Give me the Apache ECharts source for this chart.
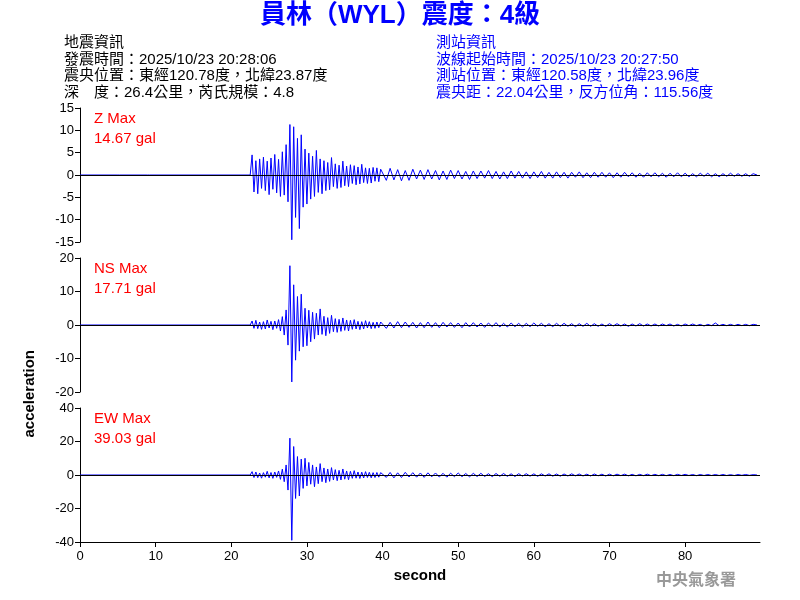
<!DOCTYPE html>
<html>
<head>
<meta charset="UTF-8">
<script src="https://cdn.jsdelivr.net/npm/echarts@6/dist/echarts.min.js"></script>
<style>body{margin:0}#c{width:800px;height:600px;background:#fff}</style>
</head>
<body>
<div id="c"></div>
<script>
// sampled traces (gal); strong part every 0.25 s from 22.5 s, coda every 0.5 s from 40 s
var dtStrong = 0.25, tStrong = 22.5, dtCoda = 0.5, tCoda = 40;
var zPre = [[0,0],[4.9,0],[5,0.3],[5.1,-0.3],[5.2,0],[8.9,0],[9,0.3],[9.1,-0.3],[9.2,0],[22.5,0]];
var nsPre = [[0,0],[22.5,0]];
var ewPre = [[0,0],[22.5,0]];
var zStrong = [0,4.5,-3.8,3.2,-4.2,3.6,-3.0,4.0,-3.5,3.1,-4.4,3.8,-3.2,4.6,-4.0,3.5,-4.8,5.2,-4.5,6.8,-6.0,11.3,-14.5,10.8,-9.5,8.2,-12.0,9.0,-7.2,5.8,-6.5,4.9,-5.4,4.2,-4.8,5.5,-3.9,3.6,-4.2,3.2,-3.5,2.8,-3.3,3.9,-2.6,2.5,-3.0,2.2,-2.8,3.1,-2.4,2.0,-2.6,2.3,-1.9,2.1,-2.2,1.8,-2.0,2.4,-1.7,1.6,-1.9,1.5,-1.8,1.7,-1.4,1.6,-1.5,1.3];
var zCoda = [1.4,-1.2,1.5,-1.1,1.2,-1.3,1.0,-1.2,1.3,-0.9,1.1,-1.0,1.2,-0.9,1.0,-1.1,0.9,-1.0,1.1,-0.8,1.0,-0.9,0.8,-1.0,0.9,-0.8,0.9,-0.7,1.0,-0.8,0.8,-0.9,0.7,-0.8,0.9,-0.7,0.8,-0.7,0.7,-0.8,0.7,-0.6,0.8,-0.7,0.6,-0.7,0.7,-0.6,0.6,-0.7,0.6,-0.5,0.7,-0.6,0.5,-0.6,0.6,-0.5,0.6,-0.5,0.5,-0.6,0.5,-0.5,0.6,-0.4,0.5,-0.5,0.4,-0.5,0.5,-0.4,0.5,-0.4,0.4,-0.5,0.4,-0.4,0.5,-0.4,0.4,-0.4,0.3,-0.4,0.4,-0.3,0.4,-0.4,0.3,-0.4,0.3,-0.3,0.4,-0.3,0.3,-0.3,0.3,-0.3,0.3,0];
var nsStrong = [0,1.2,-1.0,1.4,-1.1,0.9,-1.3,1.0,-1.2,1.5,-0.9,1.1,-1.4,1.2,-1.0,1.6,-1.8,2.5,-3.0,4.5,-6.0,17.7,-17.0,12.0,-10.5,8.5,-7.8,9.2,-6.5,5.0,-6.2,4.4,-5.0,3.8,-4.2,3.5,-3.0,4.8,-2.8,2.6,-3.2,2.2,-2.5,2.9,-2.0,1.9,-2.2,1.7,-1.9,2.1,-1.6,1.5,-1.8,1.4,-1.3,1.6,-1.2,1.1,-1.4,1.0,-1.2,1.3,-0.9,1.0,-1.1,0.8,-1.0,0.9,-0.8,0.9];
var nsCoda = [0.9,-1.0,0.8,-0.9,1.0,-0.8,0.9,-0.7,0.8,-0.9,0.7,-0.8,0.9,-0.7,0.7,-0.8,0.8,-0.6,0.7,-0.7,0.6,-0.8,0.7,-0.6,0.7,-0.6,0.6,-0.7,0.6,-0.5,0.7,-0.6,0.5,-0.6,0.6,-0.5,0.5,-0.6,0.5,-0.5,0.6,-0.4,0.5,-0.5,0.4,-0.5,0.5,-0.4,0.5,-0.4,0.4,-0.5,0.4,-0.4,0.5,-0.4,0.4,-0.4,0.3,-0.4,0.4,-0.3,0.4,-0.3,0.3,-0.4,0.3,-0.3,0.4,-0.3,0.3,-0.3,0.3,-0.3,0.3,-0.2,0.3,-0.3,0.2,-0.3,0.3,-0.2,0.3,-0.2,0.2,-0.3,0.2,-0.2,0.6,-0.2,0.2,-0.2,0.2,-0.2,0.2,-0.2,0.2,-0.2,0.2,0];
var ewStrong = [0,2.0,-1.5,1.8,-1.6,1.2,-1.9,1.4,-1.3,2.2,-1.7,1.5,-2.0,1.8,-1.4,2.4,-2.6,3.5,-4.0,6.0,-9.0,22.0,-39.0,17.0,-14.0,11.0,-12.5,9.5,-8.0,10.0,-6.5,7.5,-5.5,6.0,-7.0,4.8,-5.2,6.8,-4.0,4.2,-4.6,3.6,-3.8,4.4,-3.0,3.2,-3.4,2.8,-3.0,3.6,-2.5,2.4,-2.8,2.2,-2.0,2.6,-1.9,1.8,-2.1,1.7,-1.8,2.0,-1.5,1.6,-1.7,1.4,-1.5,1.5,-1.3,1.4];
var ewCoda = [1.6,-1.4,1.5,-1.7,1.3,-1.5,1.6,-1.2,1.4,-1.3,1.2,-1.4,1.3,-1.1,1.2,-1.2,1.0,-1.3,1.1,-1.0,1.2,-1.0,0.9,-1.1,1.0,-0.9,1.0,-0.9,0.8,-1.0,0.9,-0.8,0.9,-0.8,0.7,-0.9,0.8,-0.7,0.8,-0.7,0.7,-0.8,0.7,-0.6,0.7,-0.7,0.6,-0.7,0.6,-0.6,0.7,-0.5,0.6,-0.6,0.5,-0.6,0.6,-0.5,0.5,-0.6,0.5,-0.5,0.5,-0.4,0.5,-0.5,0.4,-0.5,0.4,-0.4,0.5,-0.4,0.4,-0.4,0.4,-0.4,0.3,-0.4,0.4,-0.3,0.4,-0.3,0.3,-0.4,0.3,-0.3,0.3,-0.3,0.3,-0.3,0.3,-0.3,0.2,-0.3,0.3,-0.2,0.3,-0.2,0.2,0];
var xTicks = {min: 0, max: 89.9, interval: 10};
var panels = [
  {name: 'Z Max', peak: '14.67 gal', pre: zPre, strong: zStrong, coda: zCoda, min: -15, max: 15, interval: 5},
  {name: 'NS Max', peak: '17.71 gal', pre: nsPre, strong: nsStrong, coda: nsCoda, min: -20, max: 20, interval: 10},
  {name: 'EW Max', peak: '39.03 gal', pre: ewPre, strong: ewStrong, coda: ewCoda, min: -40, max: 40, interval: 20}
];

function trace(p) {
  var d = p.pre.slice();
  p.strong.forEach(function (v, i) { d.push([tStrong + i * dtStrong, v]); });
  p.coda.forEach(function (v, i) { d.push([tCoda + i * dtCoda, v]); });
  return d;
}

var font = 'Liberation Sans, Arial, sans-serif';
var tops = [108, 258, 408];
var grid = [], xAxis = [], yAxis = [], series = [], graphic = [];
panels.forEach(function (p, k) {
  grid.push({left: 80, width: 680, top: tops[k], height: 134});
  xAxis.push({
    type: 'value', gridIndex: k, min: xTicks.min, max: xTicks.max, interval: xTicks.interval,
    show: k === 2, splitLine: {show: false},
    axisLine: {onZero: false, lineStyle: {color: '#000'}},
    axisTick: {lineStyle: {color: '#000'}},
    axisLabel: {color: '#000', fontSize: 13, fontFamily: font, showMaxLabel: false},
    name: k === 2 ? 'second' : '', nameLocation: 'middle', nameGap: 26,
    nameTextStyle: {color: '#000', fontSize: 15, fontWeight: 'bold', fontFamily: font}
  });
  yAxis.push({
    type: 'value', gridIndex: k, min: p.min, max: p.max, interval: p.interval,
    splitLine: {show: false},
    axisLine: {show: true, lineStyle: {color: '#000'}},
    axisTick: {show: true, lineStyle: {color: '#000'}},
    axisLabel: {color: '#000', fontSize: 13, fontFamily: font, margin: 6}
  });
  series.push({
    type: 'line', xAxisIndex: k, yAxisIndex: k, data: trace(p), showSymbol: false,
    lineStyle: {color: '#0000ff', width: 1}, animation: false,
    markLine: {silent: true, symbol: 'none', label: {show: false},
      lineStyle: {color: '#000', width: 1, type: 'solid'}, data: [{yAxis: 0}]},
    z: 3
  });
  graphic.push({type: 'text', left: 94, top: tops[k] + 1,
    style: {text: p.name + '\n' + p.peak, fill: '#ff0000', font: '15px ' + font, lineHeight: 20}});
});

var info = '15px Liberation Sans, "Noto Sans CJK TC", sans-serif';
graphic.push(
  {type: 'text', left: 'center', top: 3, style: {text: '員林（WYL）震度：4級', fill: '#0000ff', font: 'bold 26px Liberation Sans, "Noto Sans CJK TC", sans-serif'}},
  {type: 'text', left: 64, top: 35, style: {text: '地震資訊\n發震時間：2025/10/23 20:28:06\n震央位置：東經120.78度，北緯23.87度\n深　度：26.4公里，芮氏規模：4.8', fill: '#000', font: info, lineHeight: 16.5}},
  {type: 'text', left: 436, top: 35, style: {text: '測站資訊\n波線起始時間：2025/10/23 20:27:50\n測站位置：東經120.58度，北緯23.96度\n震央距：22.04公里，反方位角：115.56度', fill: '#0000ff', font: info, lineHeight: 16.5}},
  {type: 'text', left: 22, top: 350, rotation: Math.PI / 2, style: {text: 'acceleration', fill: '#000', font: 'bold 15px ' + font}},
  {type: 'text', left: 656, top: 571, style: {text: '中央氣象署', fill: '#999', font: 'bold 16px "Noto Sans CJK TC", sans-serif'}}
);

var chart = echarts.init(document.getElementById('c'));
chart.setOption({animation: false, grid: grid, xAxis: xAxis, yAxis: yAxis, series: series, graphic: graphic});
</script>
</body>
</html>
